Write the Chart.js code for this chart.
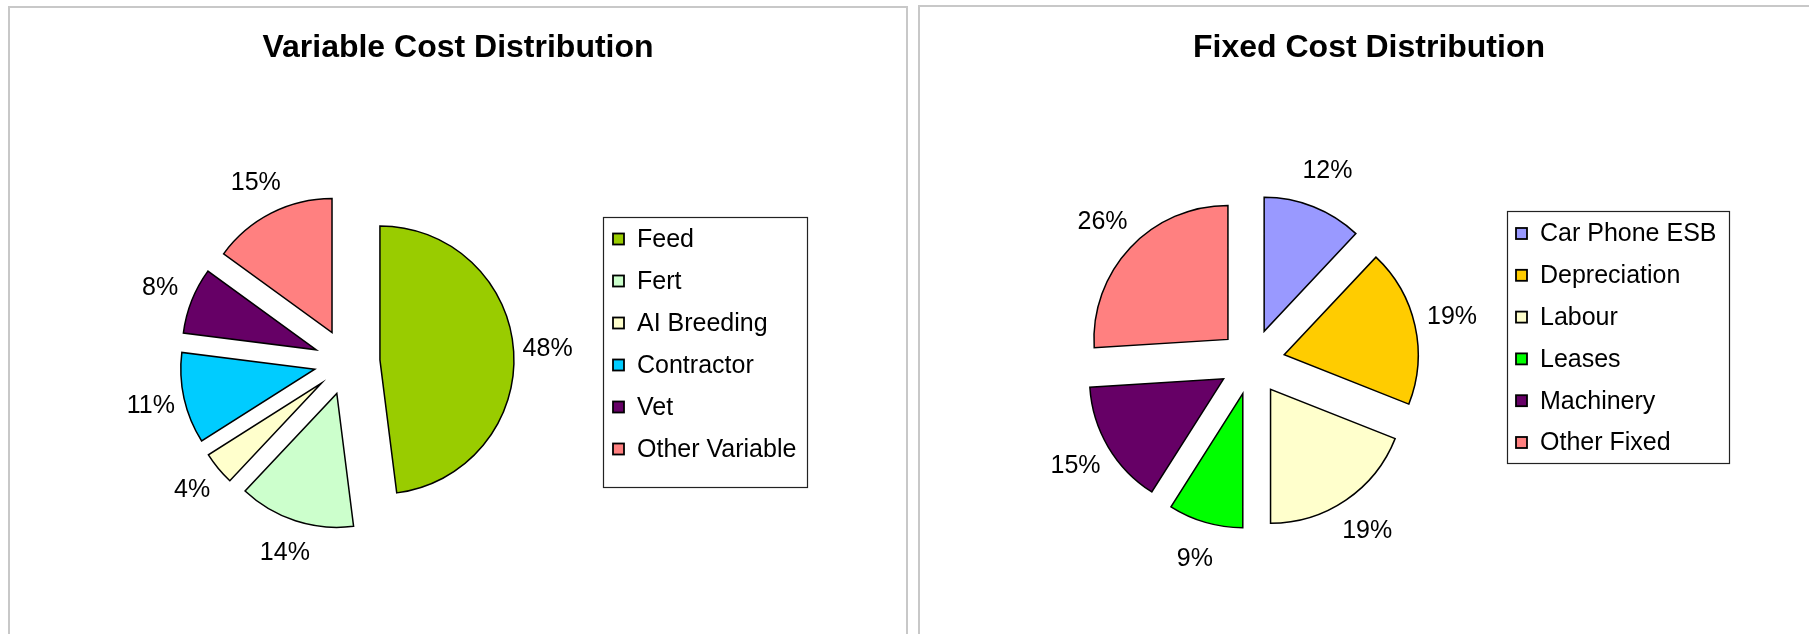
<!DOCTYPE html>
<html>
<head>
<meta charset="utf-8">
<title>Cost Distribution</title>
<script src="https://cdn.jsdelivr.net/npm/chart.js@4.4.0/dist/chart.umd.min.js"></script>
<style>
    html, body {
        margin: 0;
        padding: 0;
        background: #fff;
        width: 1809px;
        height: 634px;
        overflow: hidden;
        position: relative;
    }
    .panel {
        position: absolute;
        border: 2px solid #c8c8c8;
    }
    #leftPanel { left: 8px; top: 6px; width: 896px; height: 700px; }
    #rightPanel { left: 918px; top: 5px; width: 1000px; height: 700px; }
    canvas { position: absolute; }
    #variableChart { left: 10px; top: 8px; }
    #fixedChart { left: 920px; top: 7px; }
</style>
</head>
<body>
<div class="panel" id="leftPanel"></div>
<div class="panel" id="rightPanel"></div>
<canvas id="variableChart" width="896" height="700"></canvas>
<canvas id="fixedChart" width="898" height="700"></canvas>

<script>
// Variable costs (% of total)
const variableLabels = ['Feed', 'Fert', 'AI Breeding', 'Contractor', 'Vet', 'Other Variable'];
const variableValues = [48, 14, 4, 11, 8, 15];
const variableColors = ['#99CC00', '#CCFFCC', '#FFFFCC', '#00CCFF', '#660066', '#FF8080'];

// Fixed costs (% of total)
const fixedLabels = ['Car Phone ESB', 'Depreciation', 'Labour', 'Leases', 'Machinery', 'Other Fixed'];
const fixedValues = [12, 19, 19, 9, 15, 26];
const fixedColors = ['#9999FF', '#FFCC00', '#FFFFCC', '#00FF00', '#660066', '#FF8080'];

const FONT = '"Liberation Sans", Arial, sans-serif';
const EXPLODE = 33;

/**
 * Excel style exploded slices: push every slice out along its middle angle
 * (Chart.js 'offset' also grows the radius, which we don't want here)
 */
const baseArcDraw = Chart.ArcElement.prototype.draw;
Chart.ArcElement.prototype.draw = function(ctx) {
    const mid = (this.startAngle + this.endAngle) / 2;
    ctx.save();
    ctx.translate(Math.cos(mid) * EXPLODE, Math.sin(mid) * EXPLODE);
    baseArcDraw.call(this, ctx);
    ctx.restore();
};

/**
 * Title across the whole panel, percent labels outside the slices
 * and the boxed legend on the right
 */
const costDecorations = {
    id: 'costDecorations',
    afterDatasetsDraw(chart, args, opts) {
        const ctx = chart.ctx;
        const meta = chart.getDatasetMeta(0);
        const values = chart.data.datasets[0].data;
        const total = values.reduce((a, b) => a + b, 0);

        ctx.save();
        ctx.fillStyle = '#000';

        // title centred on the panel, not on the pie area
        ctx.font = 'bold 32px ' + FONT;
        ctx.textAlign = 'center';
        ctx.textBaseline = 'alphabetic';
        ctx.fillText(opts.title, chart.width / 2, opts.titleY);

        ctx.font = '25px ' + FONT;
        ctx.textBaseline = 'middle';
        meta.data.forEach((arc, i) => {
            const mid = (arc.startAngle + arc.endAngle) / 2;
            const x = arc.x + Math.cos(mid) * opts.labelRadius;
            const y = arc.y + Math.sin(mid) * opts.labelRadius;
            ctx.fillText(Math.round(values[i] / total * 100) + '%', x, y);
        });

        // legend box
        const box = opts.legendBox;
        ctx.strokeStyle = '#222';
        ctx.lineWidth = 1.2;
        ctx.strokeRect(box.x + 0.5, box.y + 0.5, box.w, box.h);

        const colors = chart.data.datasets[0].backgroundColor;
        ctx.textAlign = 'left';
        chart.data.labels.forEach((label, i) => {
            const cy = box.y + box.first + i * box.gap;
            ctx.fillStyle = colors[i];
            ctx.fillRect(box.x + box.sq, cy - 5.5, 11, 11);
            ctx.strokeStyle = '#000';
            ctx.lineWidth = 1.8;
            ctx.strokeRect(box.x + box.sq, cy - 5.5, 11, 11);
            ctx.fillStyle = '#000';
            ctx.fillText(label, box.x + box.text, cy + 1);
        });
        ctx.restore();
    }
};

function makePie(canvasId, title, labels, values, colors, layout) {
    const ctx = document.getElementById(canvasId);
    return new Chart(ctx, {
        type: 'pie',
        data: {
            labels: labels,
            datasets: [{
                data: values,
                backgroundColor: colors,
                borderColor: '#000',
                borderWidth: 1.5,
                borderJoinStyle: 'miter'
            }]
        },
        options: {
            responsive: false,
            animation: false,
            events: [],
            radius: 134,
            layout: {
                padding: layout.padding
            },
            plugins: {
                legend: { display: false },
                tooltip: { enabled: false },
                title: { display: false },
                costDecorations: {
                    title: title,
                    titleY: layout.titleY,
                    labelRadius: layout.labelRadius,
                    legendBox: layout.legendBox
                }
            }
        },
        plugins: [costDecorations]
    });
}

makePie('variableChart', 'Variable Cost Distribution', variableLabels, variableValues, variableColors, {
    padding: { left: 0, right: 222, top: 60, bottom: 52 },
    titleY: 49,
    labelRadius: 201,
    legendBox: { x: 593, y: 209, w: 204, h: 270, first: 22, gap: 42, sq: 10, text: 34 }
});

makePie('fixedChart', 'Fixed Cost Distribution', fixedLabels, fixedValues, fixedColors, {
    padding: { left: 0, right: 234, top: 60, bottom: 50 },
    titleY: 50,
    labelRadius: 205,
    legendBox: { x: 587, y: 204, w: 222, h: 252, first: 22.5, gap: 41.8, sq: 9, text: 33 }
});
</script>
</body>
</html>
